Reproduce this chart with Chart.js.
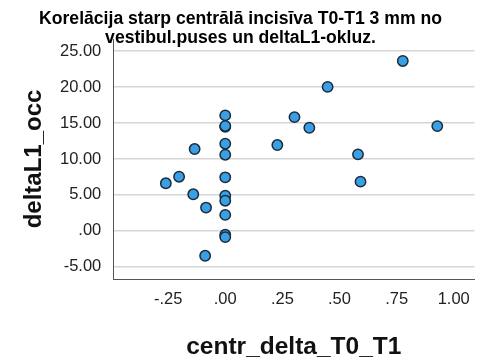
<!DOCTYPE html>
<html>
<head>
<meta charset="utf-8">
<script src="https://cdn.jsdelivr.net/npm/chart.js@4"></script>
<style>
  body { margin: 0; background: #ffffff; }
  canvas { display: block; }
</style>
</head>
<body>
<canvas id="scatter" width="481" height="362"></canvas>
<script>
// centr_delta_T0_T1 vs deltaL1_occ, one entry per patient
const centrDelta = [0.777, 0.448, 0.00, 0.00, 0.00, 0.303, 0.368, 0.928, -0.134, 0.00, 0.00, 0.228, 0.581,
                    -0.202, -0.26, 0.00, 0.592, -0.14, 0.00, 0.00, -0.084, 0.00, 0.00, 0.00, -0.088];
const deltaL1 = [23.65, 20.04, 16.07, 14.5, 14.6, 15.83, 14.35, 14.58, 11.39, 12.13, 10.6, 11.94, 10.65,
                 7.54, 6.62, 7.45, 6.85, 5.09, 4.9, 4.2, 3.24, 2.22, -0.55, -0.87, -3.47];

const xTicks = [-0.25, 0, 0.25, 0.5, 0.75, 1.0];
const yTicks = [-5, 0, 5, 10, 15, 20, 25];

const titleLines = ['Korelācija starp centrālā incisīva T0-T1 3 mm no', 'vestibul.puses un deltaL1-okluz.'];

const FONT = 'Liberation Sans, Arial, sans-serif';

// SPSS style numbers: ".25", "-.25", "1.00"
function spss(v) {
    let s = Number(v).toFixed(2);
    return s.replace(/^0\./, '.').replace(/^-0\./, '-.');
}

const points = centrDelta.map((x, i) => ({ x: x, y: deltaL1[i] }));

new Chart(document.getElementById('scatter'), {
    type: 'scatter',
    data: {
        datasets: [{
            data: points,
            backgroundColor: '#3a9fe3',
            borderColor: '#1b2c3e',
            borderWidth: 1.5,
            pointRadius: 5.2,
            pointHoverRadius: 5.2
        }]
    },
    options: {
        responsive: false,
        animation: false,
        layout: { padding: { left: 4, right: 4, top: 0, bottom: 0 } },
        plugins: {
            legend: { display: false },
            tooltip: { enabled: false },
            title: {
                display: true,
                text: titleLines,
                color: '#000000',
                font: { family: FONT, size: 17.6, weight: 'bold', lineHeight: 1.1 },
                // second line sits over the top of the plot
                padding: { top: 9, bottom: -8.7 }
            }
        },
        scales: {
            x: {
                type: 'linear',
                min: -0.49,
                max: 1.09,
                afterBuildTicks: scale => { scale.ticks = xTicks.map(v => ({ value: v })); },
                grid: { display: false, drawTicks: false },
                border: { display: true, color: '#555555', width: 1 },
                ticks: {
                    padding: 10.4,
                    color: '#222222',
                    font: { family: FONT, size: 16.5 },
                    callback: v => spss(v)
                },
                title: {
                    display: true,
                    text: 'centr_delta_T0_T1',
                    color: '#111111',
                    font: { family: FONT, size: 24.5, weight: 'bold' },
                    padding: { top: 13, bottom: 0 }
                }
            },
            y: {
                type: 'linear',
                min: -6.7,
                max: 26.7,
                afterBuildTicks: scale => { scale.ticks = yTicks.map(v => ({ value: v })); },
                grid: { color: '#d6d6d6', lineWidth: 1.5, drawTicks: false },
                border: { display: true, color: '#555555', width: 1 },
                ticks: {
                    padding: 12,
                    color: '#222222',
                    font: { family: FONT, size: 16.5 },
                    callback: v => spss(v)
                },
                title: {
                    display: true,
                    text: 'deltaL1_occ',
                    color: '#111111',
                    font: { family: FONT, size: 24, weight: 'bold' },
                    padding: { top: 15.8, bottom: -0.6 }
                }
            }
        }
    }
});
</script>
</body>
</html>
